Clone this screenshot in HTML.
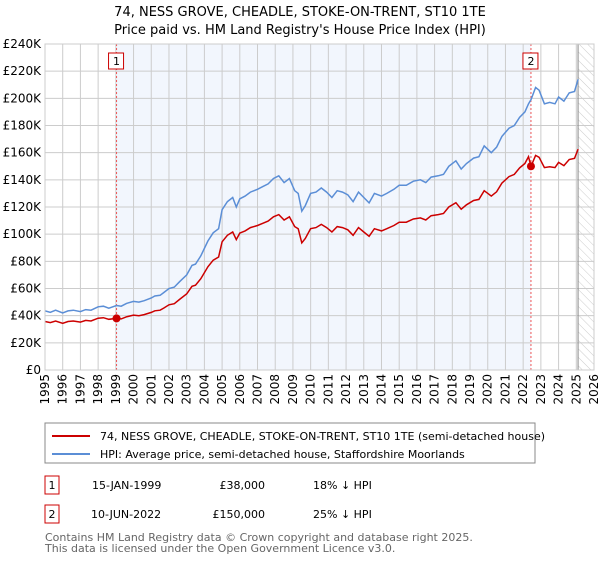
<!DOCTYPE html>
<html><head><meta charset="utf-8"><style>
body{margin:0;background:#fff;font-family:"Liberation Sans","DejaVu Sans",sans-serif;}
svg text{font-family:"DejaVu Sans","Liberation Sans",sans-serif;}
</style></head><body>
<svg id="chart" width="600" height="560" xmlns="http://www.w3.org/2000/svg">
<defs><pattern id="hatch" width="6" height="6" patternUnits="userSpaceOnUse" patternTransform="rotate(-45)"><line x1="0" y1="0" x2="0" y2="6" stroke="#ccc" stroke-width="1"/></pattern></defs>
<text x="300" y="16" text-anchor="middle" font-size="13">74, NESS GROVE, CHEADLE, STOKE-ON-TRENT, ST10 1TE</text>
<text x="300" y="34" text-anchor="middle" font-size="13">Price paid vs. HM Land Registry's House Price Index (HPI)</text>
<g id="plot"></g>
<rect x="45" y="423" width="490" height="40" fill="#fff" stroke="#888"/>
<line x1="52" y1="436" x2="90" y2="436" stroke="#cc0000" stroke-width="2"/>
<text x="100" y="440" font-size="11">74, NESS GROVE, CHEADLE, STOKE-ON-TRENT, ST10 1TE (semi-detached house)</text>
<line x1="52" y1="454" x2="90" y2="454" stroke="#5b8ed6" stroke-width="2"/>
<text x="100" y="458" font-size="11">HPI: Average price, semi-detached house, Staffordshire Moorlands</text>
<g font-size="11">
<rect x="45" y="476" width="14" height="18" fill="#fff" stroke="#cc0000"/><text x="52" y="489" text-anchor="middle">1</text>
<text x="92" y="489">15-JAN-1999</text><text x="265" y="489" text-anchor="end">£38,000</text><text x="313" y="489">18% ↓ HPI</text></g>
<g font-size="11">
<rect x="45" y="505" width="14" height="18" fill="#fff" stroke="#cc0000"/><text x="52" y="518" text-anchor="middle">2</text>
<text x="91" y="518">10-JUN-2022</text><text x="265" y="518" text-anchor="end">£150,000</text><text x="313" y="518">25% ↓ HPI</text></g>
<text x="45" y="541" font-size="11" fill="#666">Contains HM Land Registry data © Crown copyright and database right 2025.</text>
<text x="45" y="552" font-size="11" fill="#666">This data is licensed under the Open Government Licence v3.0.</text>
</svg>
<script>
const dates=[1995.0,1995.3,1995.6,1996.0,1996.3,1996.6,1997.0,1997.3,1997.6,1998.0,1998.3,1998.6,1999.04,1999.3,1999.6,2000.0,2000.3,2000.6,2001.0,2001.2,2001.5,2001.7,2002.0,2002.3,2002.6,2003.0,2003.3,2003.5,2003.8,2004.2,2004.5,2004.8,2005.0,2005.3,2005.6,2005.8,2006.0,2006.3,2006.6,2007.0,2007.3,2007.6,2007.9,2008.2,2008.5,2008.8,2009.1,2009.3,2009.5,2009.7,2010.0,2010.3,2010.6,2010.9,2011.2,2011.5,2011.8,2012.1,2012.4,2012.7,2013.0,2013.3,2013.6,2014.0,2014.3,2014.7,2015.0,2015.4,2015.8,2016.2,2016.5,2016.8,2017.2,2017.5,2017.8,2018.2,2018.5,2018.8,2019.2,2019.5,2019.8,2020.2,2020.5,2020.8,2021.2,2021.5,2021.8,2022.1,2022.3,2022.44,2022.7,2022.9,2023.2,2023.5,2023.8,2024.0,2024.3,2024.6,2024.9,2025.1];
const hpiValues=[43.5,42.5,44,42,43.5,44,43,44.5,44,46.5,47,45.5,47.5,47,49,50.5,50,51,53,54.5,55,57,60,61,65,70,77,78,84,95,101,104,118,124,127,120,126,128,131,133,135,137,141,143,138,141,132,130,117,121,130,131,134,131,127,132,131,129,124,131,127,123,130,128,130,133,136,136,139,140,138,142,143,144,150,154,148,152,156,157,165,160,164,172,178,180,186,190,196,199,208,206,196,197,196,201,198,204,205,214];
const priceValues=[35.7,34.9,36.1,34.4,35.7,36.1,35.3,36.5,36.1,38.1,38.5,37.3,38,37.6,39.2,40.4,40,40.8,42.4,43.6,44,45.6,48,48.8,52,56,61.6,62.4,67.2,76,80.8,83.2,94.4,99.2,101.6,96,100.8,102.4,104.8,106.4,108,109.6,112.8,114.4,110.4,112.8,105.6,104,93.6,96.8,104,104.8,107.2,104.8,101.6,105.6,104.8,103.2,99.2,104.8,101.6,98.4,104,102.4,104,106.4,108.8,108.8,111.2,112,110.4,113.6,114.4,115.2,120,123.2,118.4,121.6,124.8,125.6,132,128,131.2,137.6,142.4,144,148.8,152,157,150,158,156.6,149,149.7,149,152.8,150.5,155,155.8,162.6];
const yTicks=[0,20,40,60,80,100,120,140,160,180,200,220,240];
const xYears=[1995,1996,1997,1998,1999,2000,2001,2002,2003,2004,2005,2006,2007,2008,2009,2010,2011,2012,2013,2014,2015,2016,2017,2018,2019,2020,2021,2022,2023,2024,2025,2026];
const sales=[[1999.04,38,"1"],[2022.44,150,"2"]];
const X0=45,X1=594,Y0=370,Y1=44;
const xs=d=>X0+(d-1995)/(2026-1995)*(X1-X0);
const ys=v=>Y0-v/240*(Y0-Y1);
const NS="http://www.w3.org/2000/svg";
const g=document.getElementById('plot');
function mk(t,a,p){const e=document.createElementNS(NS,t);for(const k in a)e.setAttribute(k,a[k]);(p||g).appendChild(e);return e;}
let r=mk('rect',{x:X0,y:Y1,width:X1-X0,height:Y0-Y1,fill:'#fff'});


r=mk('rect',{x:xs(sales[0][0]),y:Y1,width:xs(sales[1][0])-xs(sales[0][0]),height:Y0-Y1,fill:'#eef3fc',opacity:0.75});


r=mk('rect',{x:xs(2025.1),y:Y1,width:X1-xs(2025.1),height:Y0-Y1,fill:'url(#hatch)'});


yTicks.forEach(v=>{let l=mk('line',{x1:X0,x2:X1,y1:ys(v),y2:ys(v),stroke:'#ccc'});


let t=mk('text',{x:X0-4,y:ys(v)+4,'text-anchor':'end','font-size':12});t.textContent='£'+(v?v+'K':'0');

});
xYears.forEach(yv=>{let l=mk('line',{x1:xs(yv),x2:xs(yv),y1:Y1,y2:Y0,stroke:'#ccc'});


let t=mk('text',{x:0,y:0,'text-anchor':'end','font-size':12,transform:`translate(${xs(yv)+4},${Y0+4}) rotate(-90)`});t.textContent=yv;

});
let vl=mk('line',{x1:xs(2025.1),x2:xs(2025.1),y1:Y1,y2:Y0,stroke:'#888'});


sales.forEach(s=>{let l=mk('line',{x1:xs(s[0]),x2:xs(s[0]),y1:Y1,y2:Y0,stroke:'#e55','stroke-dasharray':'2,2'});

});
function path(vals,col,name){let d=dates.map((t,i)=>(i?'L':'M')+xs(t).toFixed(1)+','+ys(vals[i]).toFixed(1)).join('');
let p=mk('path',{d:d,fill:'none',stroke:col,'stroke-width':1.5});

}
path(hpiValues,'#5b8ed6','hpi-line');
path(priceValues,'#cc0000','price-paid-line');
sales.forEach(s=>{let c=mk('circle',{cx:xs(s[0]),cy:ys(s[1]),r:4,fill:'#cc0000'});


let b=mk('rect',{x:xs(s[0])-8,y:53,width:15,height:16,fill:'#fff',stroke:'#cc0000'});


let t=mk('text',{x:xs(s[0]),y:65,'text-anchor':'middle','font-size':11});t.textContent=s[2];

});
let bd=mk('rect',{x:X0,y:Y1,width:X1-X0,height:Y0-Y1,fill:'none',stroke:'#ccc'});


</script>
</body></html>
